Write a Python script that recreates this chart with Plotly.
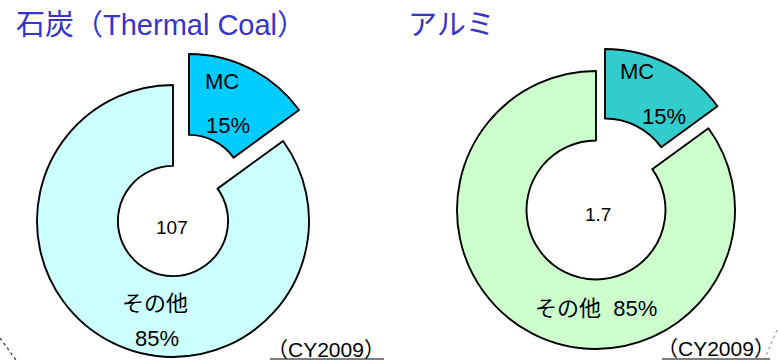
import plotly.graph_objects as go

# ---- data ----
labels = ["MC", "その他"]
coal_values = [15, 85]
alu_values = [15, 85]
coal_total = "107"
alu_total = "1.7"
titles = ["石炭（Thermal Coal）", "アルミ"]
year_note = "（CY2009）"

coal_colors = ["#00CCFF", "#CCFFFF"]
alu_colors = ["#33CCCC", "#CCFFCC"]

W, H = 778, 360
FONT = "Liberation Sans, Arial, Noto Sans CJK JP, sans-serif"
CLEAR = "rgba(0,0,0,0)"


def dom(cx, cy, r):
    return dict(x=[(cx - r) / W, (cx + r) / W], y=[1 - (cy + r) / H, 1 - (cy - r) / H])


def donut(values, colors, center, shift, r, hole):
    cx, cy = center
    dx, dy = shift
    base = go.Pie(
        labels=labels, values=values, sort=False, direction="clockwise", rotation=0,
        hole=hole, textinfo="none", showlegend=False,
        marker=dict(colors=[CLEAR, colors[1]], line=dict(color=[CLEAR, "black"], width=[0, 1.9])),
        domain=dom(cx, cy, r),
    )
    pulled = go.Pie(
        labels=labels, values=values, sort=False, direction="clockwise", rotation=0,
        hole=hole, textinfo="none", showlegend=False,
        marker=dict(colors=[colors[0], CLEAR], line=dict(color=["black", CLEAR], width=[1.9, 0])),
        domain=dom(cx + dx, cy + dy, r),
    )
    return [base, pulled]


fig = go.Figure()
for t in donut(coal_values, coal_colors, (173, 221), (16, -31), 136, 0.405):
    fig.add_trace(t)
for t in donut(alu_values, alu_colors, (596, 210), (9, -22), 139, 0.50):
    fig.add_trace(t)

ann = []


def txt(x, y, s, size=22, color="black", anchor="center"):
    ann.append(dict(x=x / W, y=1 - y / H, xref="paper", yref="paper", text=s, showarrow=False,
                    xanchor=anchor, yanchor="middle", font=dict(family=FONT, size=size, color=color)))


# titles
txt(14, 25, titles[0], size=29, color="#3535C8", anchor="left")
txt(406, 25, titles[1], size=29, color="#3535C8", anchor="left")

# coal labels
txt(222, 82, labels[0])
txt(228, 125, f"{coal_values[0]}%")
txt(155, 303, labels[1])
txt(157, 338, f"{coal_values[1]}%")
txt(172, 227, coal_total, size=19)

# aluminium labels
txt(637, 72, labels[0])
txt(664, 117, f"{alu_values[0]}%")
txt(596, 308, f"{labels[1]}  {alu_values[1]}%")
txt(598, 214, alu_total, size=19)

# year notes
txt(326, 349, year_note, size=21)
txt(716, 348, year_note, size=21)

shapes = [
    dict(type="line", xref="paper", yref="paper", x0=270 / W, x1=384 / W, y0=1 - 359 / H, y1=1 - 359 / H,
         line=dict(color="black", width=1.2)),
    dict(type="line", xref="paper", yref="paper", x0=662 / W, x1=770 / W, y0=1 - 359 / H, y1=1 - 359 / H,
         line=dict(color="black", width=1.2)),
    dict(type="line", xref="paper", yref="paper", x0=0, x1=16 / W, y0=1 - 338 / H, y1=0,
         line=dict(color="#333", width=1.2, dash="dot")),
    dict(type="line", xref="paper", yref="paper", x0=777 / W, x1=765 / W, y0=1 - 330 / H, y1=1 - 358 / H,
         line=dict(color="#888", width=1, dash="dot")),
]

fig.update_layout(
    width=W, height=H, margin=dict(l=0, r=0, t=0, b=0),
    paper_bgcolor="white", plot_bgcolor="white",
    annotations=ann, shapes=shapes,
    font=dict(family=FONT),
)

fig.write_html("out.html")
